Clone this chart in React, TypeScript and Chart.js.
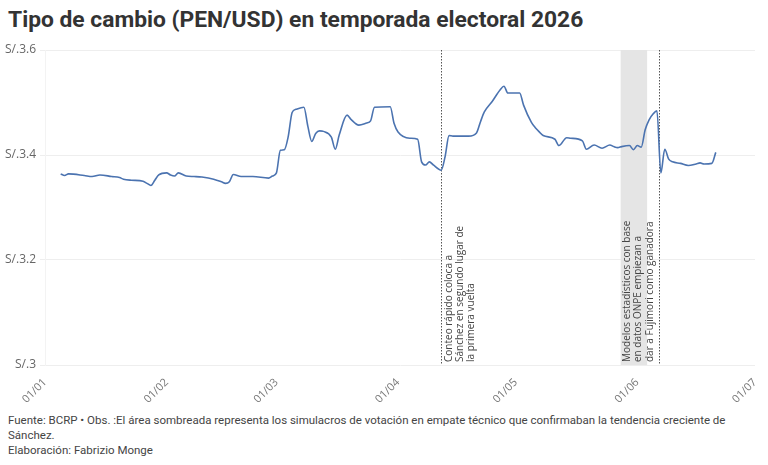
import React, { useEffect, useRef } from "react";
import { Chart, registerables } from "chart.js";

Chart.register(...registerables);

// Tipo de cambio diario (PEN por USD)
const fechas = [
  "2026-01-05", "2026-01-06", "2026-01-07", "2026-01-11", "2026-01-13", "2026-01-15",
  "2026-01-18", "2026-01-20", "2026-01-21", "2026-01-23", "2026-01-26", "2026-01-27",
  "2026-01-28", "2026-01-29", "2026-01-30", "2026-02-01", "2026-02-02", "2026-02-03",
  "2026-02-04", "2026-02-06", "2026-02-08", "2026-02-10", "2026-02-13", "2026-02-15",
  "2026-02-16", "2026-02-17", "2026-02-18", "2026-02-20", "2026-02-23", "2026-02-27",
  "2026-02-28", "2026-03-01", "2026-03-02", "2026-03-03", "2026-03-04", "2026-03-05",
  "2026-03-06", "2026-03-08", "2026-03-09", "2026-03-10", "2026-03-11", "2026-03-12",
  "2026-03-13", "2026-03-15", "2026-03-16", "2026-03-17", "2026-03-19", "2026-03-20",
  "2026-03-22", "2026-03-24", "2026-03-25", "2026-03-26", "2026-03-30", "2026-03-31",
  "2026-04-01", "2026-04-04", "2026-04-06", "2026-04-07", "2026-04-08", "2026-04-09",
  "2026-04-10", "2026-04-12", "2026-04-13", "2026-04-14", "2026-04-15", "2026-04-19",
  "2026-04-21", "2026-04-22", "2026-04-23", "2026-04-25", "2026-04-27", "2026-04-28",
  "2026-04-29", "2026-05-02", "2026-05-03", "2026-05-05", "2026-05-06", "2026-05-07",
  "2026-05-08", "2026-05-11", "2026-05-12", "2026-05-14", "2026-05-15", "2026-05-18",
  "2026-05-19", "2026-05-21", "2026-05-23", "2026-05-25", "2026-05-26", "2026-05-27",
  "2026-05-28", "2026-05-30", "2026-05-31", "2026-06-01", "2026-06-02", "2026-06-03",
  "2026-06-04", "2026-06-05", "2026-06-06", "2026-06-07", "2026-06-08", "2026-06-09",
  "2026-06-10", "2026-06-12", "2026-06-14", "2026-06-16", "2026-06-17", "2026-06-18",
  "2026-06-20", "2026-06-21",
];

const tipoCambio = [
  3.364, 3.361, 3.364, 3.361, 3.359, 3.362,
  3.359, 3.357, 3.354, 3.352, 3.350, 3.346,
  3.342, 3.352, 3.362, 3.366, 3.362, 3.360,
  3.366, 3.360, 3.359, 3.358, 3.354, 3.349,
  3.346, 3.349, 3.363, 3.359, 3.359, 3.356,
  3.360, 3.366, 3.409, 3.410, 3.435, 3.481,
  3.487, 3.491, 3.455, 3.426, 3.441, 3.446,
  3.445, 3.434, 3.411, 3.438, 3.476, 3.468,
  3.457, 3.461, 3.465, 3.491, 3.492, 3.460,
  3.444, 3.432, 3.430, 3.387, 3.381, 3.387,
  3.381, 3.371, 3.397, 3.437, 3.436, 3.436,
  3.442, 3.463, 3.482, 3.502, 3.524, 3.531,
  3.518, 3.518, 3.495, 3.462, 3.452, 3.444,
  3.437, 3.430, 3.418, 3.433, 3.432, 3.427,
  3.411, 3.419, 3.413, 3.419, 3.416, 3.414,
  3.416, 3.418, 3.410, 3.418, 3.415, 3.448,
  3.467, 3.478, 3.484, 3.366, 3.411, 3.392,
  3.387, 3.384, 3.380, 3.383, 3.385, 3.383,
  3.384, 3.405,
];

const inicioSerie = "2026-01-01";
const finSerie = "2026-07-01";
const mesesTicks = ["2026-01-01", "2026-02-01", "2026-03-01", "2026-04-01", "2026-05-01", "2026-06-01", "2026-07-01"];
const etiquetasMes = ["01/01", "01/02", "01/03", "01/04", "01/05", "01/06", "01/07"];
const valoresY = [3, 3.2, 3.4, 3.6];
const etiquetasY = ["S/.3", "S/.3.2", "S/.3.4", "S/.3.6"];

// Simulacros en empate técnico
const zonaSombreada = ["2026-05-27T18:00Z", "2026-06-03T12:00Z"];

// Hitos electorales
const eventos = ["2026-04-12", "2026-06-06T12:00Z"];
const notasEventos = [
  ["Conteo rápido coloca a", "Sánchez en segundo lugar de", "la primera vuelta"],
  ["Modelos estadísticos con base", "en datos ONPE empiezan a", "dar a Fujimori como ganadora"],
];

const DIA_MS = 86400000;
const dia = (s: string) => (Date.parse(s) - Date.parse(inicioSerie)) / DIA_MS;

const ANCHO = 768;
const ALTO_CANVAS = 366;
const FUENTE = "'Open Sans', 'Noto Sans', sans-serif";

const marcasPlugin = {
  id: "marcasElectorales",
  beforeDatasetsDraw(chart: any) {
    const { ctx, chartArea: a, scales } = chart;
    const x = scales.x;
    ctx.save();
    // área sombreada
    const xs0 = x.getPixelForValue(dia(zonaSombreada[0]));
    const xs1 = x.getPixelForValue(dia(zonaSombreada[1]));
    ctx.fillStyle = "#e5e5e5";
    ctx.fillRect(xs0, a.top, xs1 - xs0, a.bottom - a.top);

    eventos.forEach((ev, i) => {
      const px = Math.round(x.getPixelForValue(dia(ev))) + 0.5;
      ctx.strokeStyle = "#555555";
      ctx.lineWidth = 1;
      ctx.setLineDash([1.5, 1.5]);
      ctx.beginPath();
      ctx.moveTo(px, a.top);
      ctx.lineTo(px, a.bottom);
      ctx.stroke();
      ctx.setLineDash([]);

      const lineas = notasEventos[i];
      const alto = 11.3;
      const aLaDerecha = i === 0;
      const inicioX = aLaDerecha ? px + 2.5 : px - 3.5 - lineas.length * alto;
      ctx.save();
      ctx.translate(inicioX, a.bottom - 3);
      ctx.rotate(-Math.PI / 2);
      ctx.fillStyle = "#444444";
      ctx.font = `10px ${FUENTE}`;
      ctx.textAlign = "left";
      ctx.textBaseline = "top";
      lineas.forEach((t, j) => ctx.fillText(t, 0, j * alto));
      ctx.restore();
    });
    ctx.restore();
  },
};

export default function App() {
  const canvasRef = useRef<HTMLCanvasElement | null>(null);

  useEffect(() => {
    if (!canvasRef.current) return;
    const puntos = fechas.map((f, i) => ({ x: dia(f), y: tipoCambio[i] }));
    const chart = new Chart(canvasRef.current, {
      type: "line",
      data: {
        datasets: [
          {
            label: "Tipo de cambio",
            data: puntos,
            borderColor: "#4b73b0",
            borderWidth: 1.6,
            pointRadius: 0,
            cubicInterpolationMode: "monotone",
            fill: false,
          },
        ],
      },
      options: {
        responsive: false,
        animation: false,
        devicePixelRatio: 1,
        layout: { padding: { top: 14, right: 13, left: 0, bottom: 0 } },
        plugins: {
          legend: { display: false },
          tooltip: { enabled: false },
          title: { display: false },
        },
        scales: {
          x: {
            type: "linear",
            min: dia(inicioSerie),
            max: dia(finSerie),
            afterBuildTicks: (s: any) => {
              s.ticks = mesesTicks.map((m) => ({ value: dia(m) }));
            },
            afterFit: (s: any) => {
              s.height = 37;
            },
            ticks: {
              autoSkip: false,
              maxRotation: 45,
              minRotation: 45,
              padding: 3,
              color: "#777777",
              font: { size: 11, family: FUENTE },
              callback: (_v: any, idx: number) => etiquetasMes[idx],
            },
            grid: { display: false },
            border: { display: false },
          },
          y: {
            min: 3,
            max: 3.6,
            afterBuildTicks: (s: any) => {
              s.ticks = valoresY.map((v) => ({ value: v }));
            },
            afterFit: (s: any) => {
              s.width = 45;
            },
            ticks: {
              padding: 4,
              color: "#666666",
              font: { size: 12, family: FUENTE },
              callback: (_v: any, idx: number) => etiquetasY[idx],
            },
            grid: { color: "#eeeeee", tickLength: 5, lineWidth: 1 },
            border: { display: true, color: "#f3f3f3" },
          },
        },
      },
      plugins: [marcasPlugin],
    });
    return () => chart.destroy();
  }, []);

  return (
    <div style={{ position: "absolute", left: 0, top: 0, width: ANCHO, height: 465, background: "#ffffff", fontFamily: FUENTE }}>
      <div
        style={{
          position: "absolute",
          left: 8,
          top: 7,
          fontSize: 22.8,
          fontWeight: 700,
          color: "#333333",
          lineHeight: "26px",
          fontFamily: "Roboto, 'Open Sans', sans-serif",
          whiteSpace: "nowrap",
        }}
      >
        Tipo de cambio (PEN/USD) en temporada electoral 2026
      </div>
      <canvas ref={canvasRef} width={ANCHO} height={ALTO_CANVAS} style={{ position: "absolute", left: 0, top: 36, display: "block" }} />
      <div
        style={{
          position: "absolute",
          left: 8,
          top: 413,
          fontSize: 11.5,
          lineHeight: "15px",
          color: "#444444",
          fontFamily: "Roboto, 'Open Sans', sans-serif",
          whiteSpace: "nowrap",
        }}
      >
        <div>Fuente: BCRP • Obs. :El área sombreada representa los simulacros de votación en empate técnico que confirmaban la tendencia creciente de</div>
        <div>Sánchez.</div>
        <div>Elaboración: Fabrizio Monge</div>
      </div>
    </div>
  );
}
